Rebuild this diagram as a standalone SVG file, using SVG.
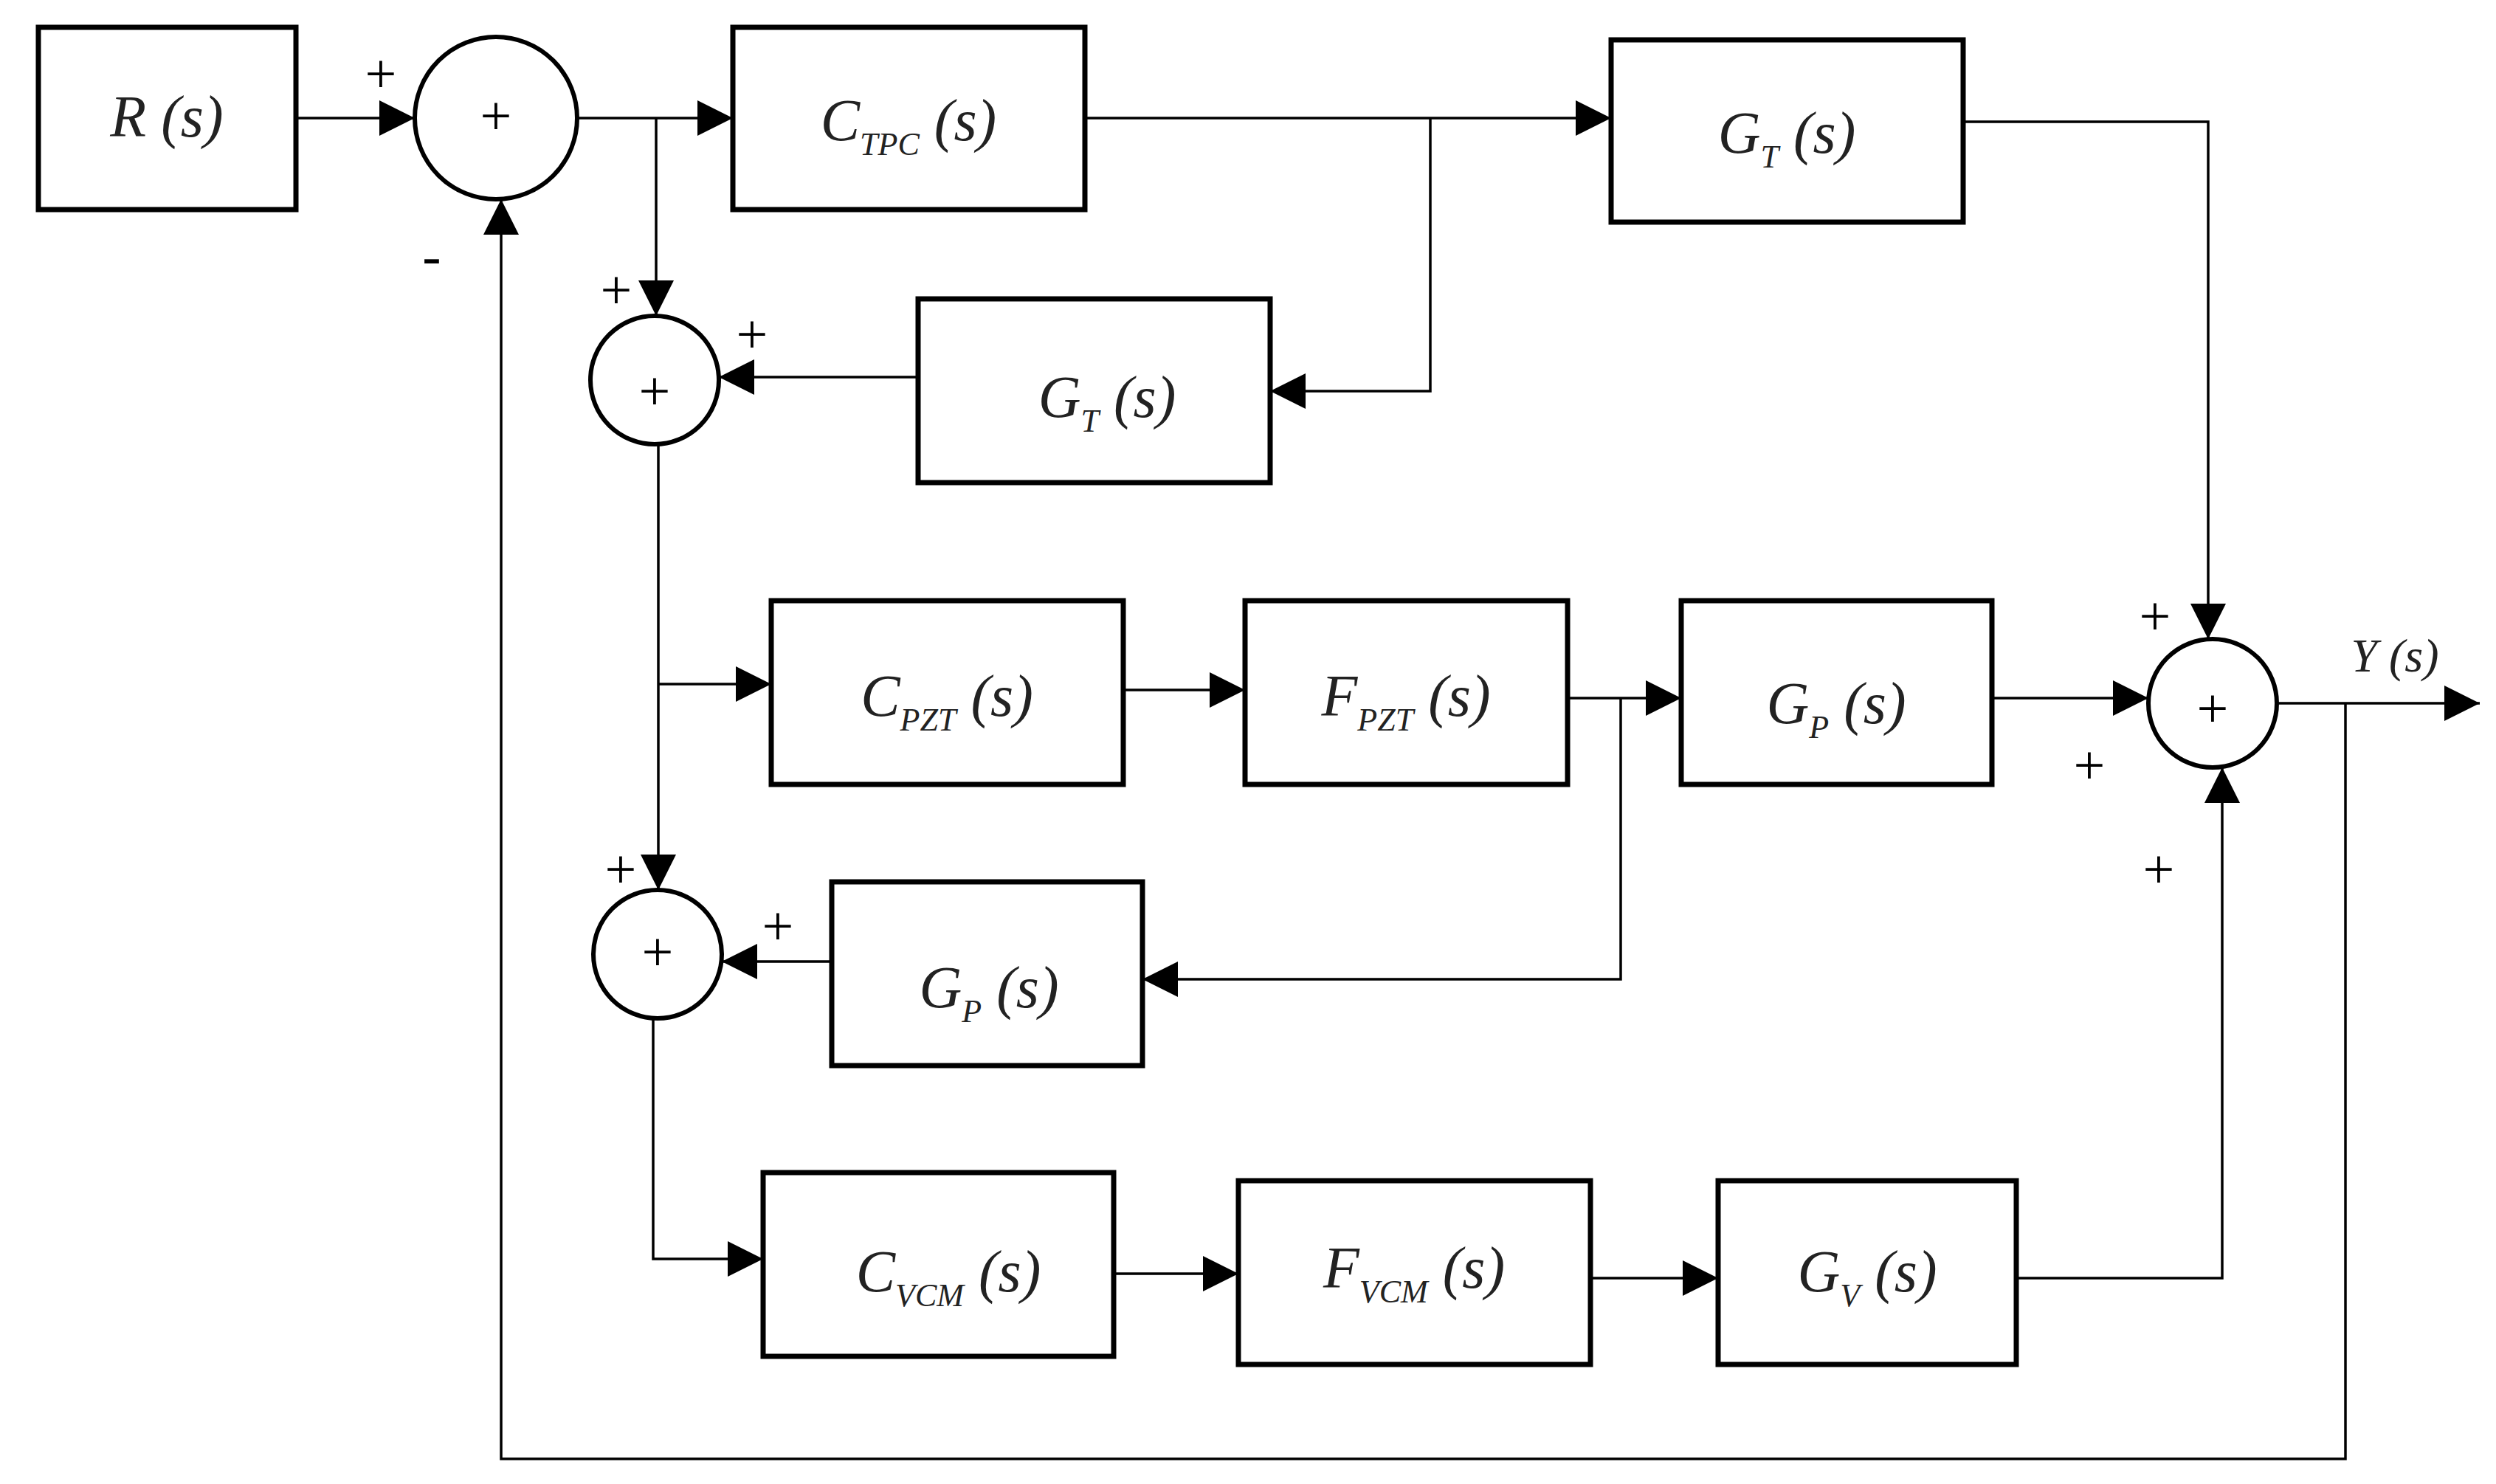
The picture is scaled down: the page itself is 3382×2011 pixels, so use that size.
<svg xmlns="http://www.w3.org/2000/svg" width="3382" height="2011" viewBox="0 0 3382 2011">
<defs>
<marker id="a" viewBox="0 0 10 10" refX="10" refY="5" markerWidth="48" markerHeight="48" markerUnits="userSpaceOnUse" orient="auto"><path d="M0,0 L10,5 L0,10 z" fill="#000"/></marker>
<style>
.b{fill:#fff;stroke:#000;stroke-width:7}
.c{fill:#fff;stroke:#000;stroke-width:6}
.l{fill:none;stroke:#000;stroke-width:3.5}
.t{font-family:"Liberation Serif",serif;font-style:italic;font-size:80px;text-anchor:middle;fill:#222}
.s{font-size:44px}
.p{font-family:"Liberation Serif",serif;font-size:76px;text-anchor:middle;fill:#000}
</style>
</defs>
<rect width="3382" height="2011" fill="#fff"/>
<g id="connectors">
<path class="l" d="M401,160 H562" marker-end="url(#a)"/>
<path class="l" d="M782,160 H993" marker-end="url(#a)"/>
<path class="l" d="M889,160 V428" marker-end="url(#a)"/>
<path class="l" d="M1470,160 H2183" marker-end="url(#a)"/>
<path class="l" d="M1938,160 V530 H1721" marker-end="url(#a)"/>
<path class="l" d="M1244,511 H974" marker-end="url(#a)"/>
<path class="l" d="M2660,165 H2992 V866" marker-end="url(#a)"/>
<path class="l" d="M892,602 V1206" marker-end="url(#a)"/>
<path class="l" d="M892,927 H1045" marker-end="url(#a)"/>
<path class="l" d="M1522,935 H1687" marker-end="url(#a)"/>
<path class="l" d="M2124,946 H2278" marker-end="url(#a)"/>
<path class="l" d="M2196,946 V1327 H1548" marker-end="url(#a)"/>
<path class="l" d="M1127,1303 H978" marker-end="url(#a)"/>
<path class="l" d="M2699,946 H2911" marker-end="url(#a)"/>
<path class="l" d="M3085,953 H3360" marker-end="url(#a)"/>
<path class="l" d="M3178,953 V1977 H679 V270" marker-end="url(#a)"/>
<path class="l" d="M885,1380 V1706 H1034" marker-end="url(#a)"/>
<path class="l" d="M1509,1726 H1678" marker-end="url(#a)"/>
<path class="l" d="M2155,1732 H2328" marker-end="url(#a)"/>
<path class="l" d="M2732,1732 H3011 V1040" marker-end="url(#a)"/>
</g>
<g id="R"><rect class="b" x="52" y="37" width="349" height="247"/><text class="t" x="226" y="185">R (s)</text></g>
<g id="sum1"><circle class="c" cx="672" cy="160" r="110"/><text class="p" x="672" y="182">+</text></g>
<g id="CTPC"><rect class="b" x="993" y="37" width="477" height="247"/><text class="t" x="1231" y="190">C<tspan class="s" dy="20">TPC</tspan><tspan dy="-20"> (s)</tspan></text></g>
<g id="GT1"><rect class="b" x="2183" y="54" width="477" height="247"/><text class="t" x="2421" y="207">G<tspan class="s" dy="20">T</tspan><tspan dy="-20"> (s)</tspan></text></g>
<g id="sum2"><circle class="c" cx="887" cy="515" r="87"/><text class="p" x="887" y="555">+</text></g>
<g id="GT2"><rect class="b" x="1244" y="405" width="477" height="249"/><text class="t" x="1500" y="565">G<tspan class="s" dy="20">T</tspan><tspan dy="-20"> (s)</tspan></text></g>
<g id="CPZT"><rect class="b" x="1045" y="814" width="477" height="249"/><text class="t" x="1283" y="970">C<tspan class="s" dy="20">PZT</tspan><tspan dy="-20"> (s)</tspan></text></g>
<g id="FPZT"><rect class="b" x="1687" y="814" width="437" height="249"/><text class="t" x="1905" y="970">F<tspan class="s" dy="20">PZT</tspan><tspan dy="-20"> (s)</tspan></text></g>
<g id="GP1"><rect class="b" x="2278" y="814" width="421" height="249"/><text class="t" x="2488" y="980">G<tspan class="s" dy="20">P</tspan><tspan dy="-20"> (s)</tspan></text></g>
<g id="sumR"><circle class="c" cx="2998" cy="953" r="87"/><text class="p" x="2998" y="985">+</text></g>
<g id="sum3"><circle class="c" cx="891" cy="1293" r="87"/><text class="p" x="891" y="1315">+</text></g>
<g id="GP2"><rect class="b" x="1127" y="1195" width="421" height="249"/><text class="t" x="1340" y="1365">G<tspan class="s" dy="20">P</tspan><tspan dy="-20"> (s)</tspan></text></g>
<g id="CVCM"><rect class="b" x="1034" y="1589" width="475" height="249"/><text class="t" x="1285" y="1750">C<tspan class="s" dy="20">VCM</tspan><tspan dy="-20"> (s)</tspan></text></g>
<g id="FVCM"><rect class="b" x="1678" y="1600" width="477" height="249"/><text class="t" x="1916" y="1745">F<tspan class="s" dy="20">VCM</tspan><tspan dy="-20"> (s)</tspan></text></g>
<g id="GV"><rect class="b" x="2328" y="1600" width="404" height="249"/><text class="t" x="2530" y="1750">G<tspan class="s" dy="20">V</tspan><tspan dy="-20"> (s)</tspan></text></g>
<g id="labels">
<text class="p" x="516" y="125">+</text>
<text class="p" x="585" y="372">-</text>
<text class="p" x="835" y="418">+</text>
<text class="p" x="1019" y="478">+</text>
<text class="p" x="2920" y="860">+</text>
<text class="p" x="2831" y="1062">+</text>
<text class="p" x="2925" y="1203">+</text>
<text class="p" x="841" y="1203">+</text>
<text class="p" x="1054" y="1280">+</text>
<text class="t" x="3245" y="910" style="font-size:64px">Y (s)</text>
</g>
</svg>
